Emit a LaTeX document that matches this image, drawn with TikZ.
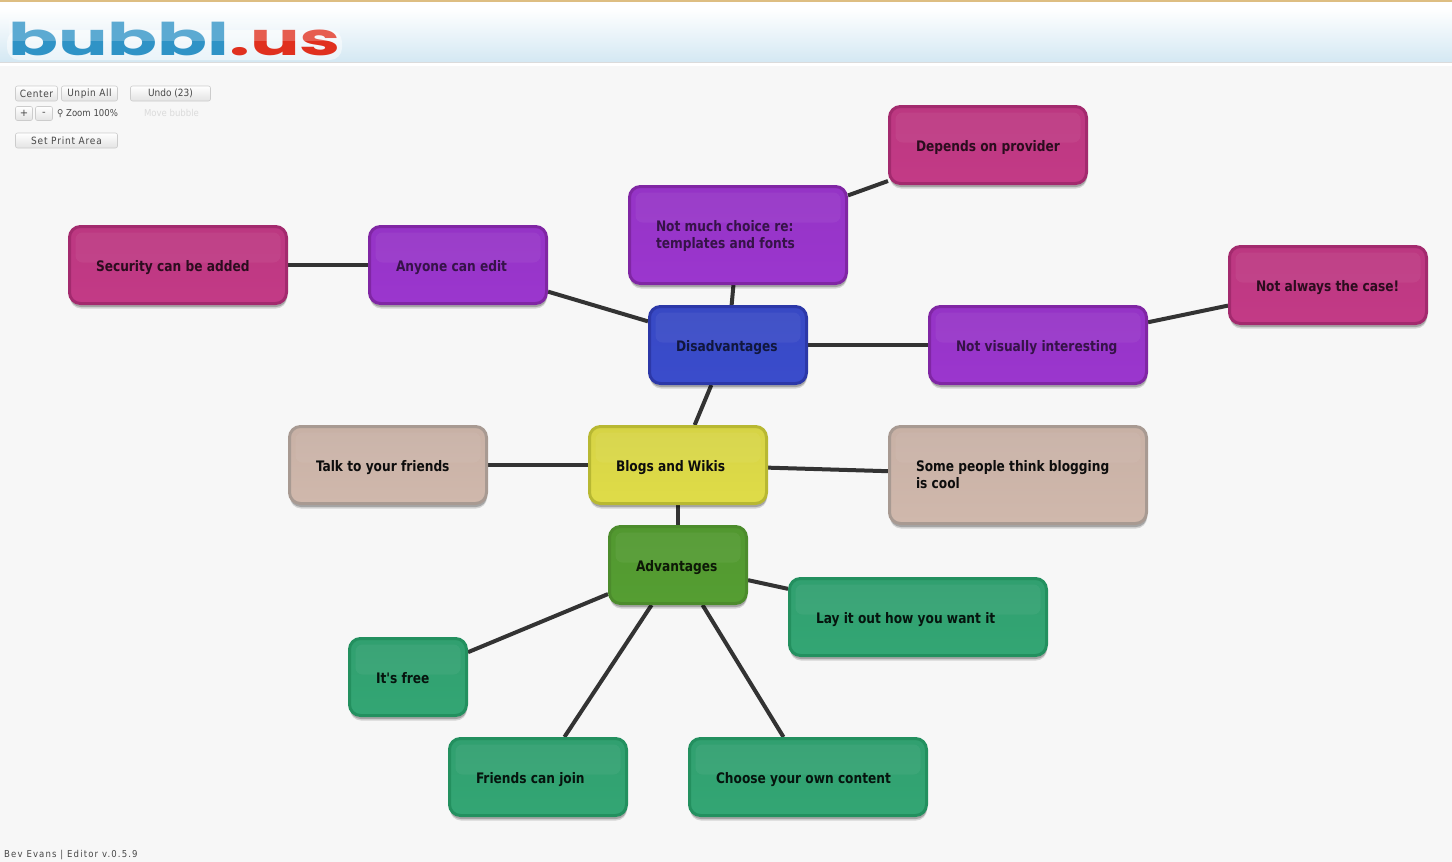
\documentclass[tikz,border=0pt]{standalone}
\usepackage{fontspec}
\setmainfont{DejaVu Sans}
\newfontfamily\bubfont{DejaVu Sans Condensed}[BoldFont={DejaVu Sans Condensed Bold},BoldFeatures={FakeStretch=0.935}]
\newfontfamily\uifont{DejaVu Sans Condensed}
\newfontfamily\logofont{Poppins}[BoldFont={Poppins Bold}]
\usetikzlibrary{shadows,calc}
\pgfdeclarelayer{under}
\pgfsetlayers{under,main}
\definecolor{paper}{HTML}{F7F7F7}
\definecolor{conn}{HTML}{333333}
\definecolor{bandblue}{HTML}{D4E8F3}
\definecolor{topline}{HTML}{DEBE82}
\tikzset{
  x=1pt,y=-1pt,
  bubble/.style n args={3}{
    rectangle, rounded corners=11pt, line width=3pt, inner sep=0pt, outer sep=1.5pt,
    draw=#1, top color=#2!96!black, bottom color=#2, text=#3,
    drop shadow={shadow xshift=0.5pt,shadow yshift=-5pt,opacity=.14,fill=black},
    drop shadow={shadow xshift=0.5pt,shadow yshift=-3.5pt,opacity=.22,fill=black},
    path picture={
      \fill[white,opacity=.05,rounded corners=7pt]
        ($(path picture bounding box.north west)+(6,6)$) rectangle
        ($(path picture bounding box.north east)+(-6,36)$);
    }
  },
  magentabub/.style={bubble={BM}{FM}{FM!22!black}},
  violetbub/.style={bubble={BV}{FV}{FV!35!black}},
  bluebub/.style={bubble={BB}{FB}{FB!30!black}},
  yellowbub/.style={bubble={BY}{FY}{black!95}},
  taupebub/.style={bubble={BT}{FT}{black!95}},
  greenbub/.style={bubble={BG}{FG}{FG!15!black}},
  tealbub/.style={bubble={BE}{FE}{FE!12!black}},
  link/.style={draw=conn,line width=4pt},
  uibtn/.style={rectangle,rounded corners=2pt,draw=black!20,line width=.6pt,top color=white,bottom color=black!11,
    inner sep=0pt,text=black!72,font=\fontsize{10}{11}\selectfont},
  uitext/.style={inner sep=0pt,text=black!72,font=\fontsize{9.5}{11}\selectfont},
  logotxt/.style={inner sep=0pt,anchor=base west,font=\logofont\bfseries\fontsize{46}{46}\selectfont}
}
\definecolor{BM}{HTML}{A32A6E}\definecolor{FM}{HTML}{C33A86}
\definecolor{BV}{HTML}{8026A4}\definecolor{FV}{HTML}{9B36CE}
\definecolor{BB}{HTML}{2C38A8}\definecolor{FB}{HTML}{3A4CCC}
\definecolor{BY}{HTML}{B8B832}\definecolor{FY}{HTML}{DFDC48}
\definecolor{BT}{HTML}{A89A92}\definecolor{FT}{HTML}{D0B8AC}
\definecolor{BG}{HTML}{4C8C2C}\definecolor{FG}{HTML}{559E32}
\definecolor{BE}{HTML}{23905F}\definecolor{FE}{HTML}{33A674}
\newcommand{\bub}[7]{%
  \pgfmathsetmacro{\cx}{(#2+#4)/2}\pgfmathsetmacro{\cy}{(#3+#5)/2}%
  \pgfmathsetmacro{\ww}{#4-#2-3}\pgfmathsetmacro{\hh}{#5-#3-3}%
  \node[#6,minimum width=\ww pt,minimum height=\hh pt] (#1) at (\cx,\cy)
    {\parbox[c][\hh pt][t]{\ww pt}{\raggedright\leftskip=26.5pt\bubfont\bfseries\fontsize{14.5}{17}\selectfont\vspace*{33pt}\strut #7\strut}};%
}
\begin{document}
\begin{tikzpicture}
\useasboundingbox (0,0) rectangle (1452,862);
\begin{pgfonlayer}{under}
  \fill[paper] (0,0) rectangle (1452,862);
  \fill[white] (0,0) rectangle (1452,66);
  \shade[top color=white,bottom color=bandblue] (0,8) rectangle (1452,62);
  \fill[black!14] (0,62) rectangle (1452,63);
  \fill[black!3] (0,66) rectangle (1452,68);
  \fill[topline] (0,0) rectangle (1452,1.5);
  \fill[white,opacity=.5,rounded corners=12pt] (7,30) rectangle (342,60);
\end{pgfonlayer}
% logo
\node[logotxt] (logo) at (8,55) {\scalebox{1.6}[.98]{\textcolor[HTML]{2F93C6}{bubbl}\textcolor[HTML]{E0301E}{.us}}};
\fill[white,opacity=.22] (9,20) rectangle (340,41);
% toolbar
\node[uibtn,minimum width=42pt,minimum height=15pt] (center) at (36.5,93.5) {\uifont\addfontfeatures{LetterSpace=6}Center};
\node[uibtn,minimum width=56pt,minimum height=15pt] (unpin) at (89.5,93.5) {\uifont\addfontfeatures{LetterSpace=6}Unpin All};
\node[uibtn,minimum width=80pt,minimum height=15pt] (undo) at (170.5,93.5) {\uifont Undo (23)};
\node[uibtn,minimum width=17pt,minimum height=14pt] (plus) at (24,113.5) {+};
\node[uibtn,minimum width=17pt,minimum height=14pt] (minus) at (44,113.5) {-};
\node[uitext,anchor=west] (zoom) at (57,114) {\uifont\fontsize{9.5}{11}\selectfont ⚲ Zoom 100\%};
\node[uitext,text=black!14] (move) at (171.5,112.5) {\uifont Move bubble};
\node[uibtn,minimum width=102pt,minimum height=15pt] (print) at (66.5,140.5) {\uifont\addfontfeatures{LetterSpace=8}Set Print Area};
\node[uitext,anchor=west] (footer) at (4,855) {\uifont\addfontfeatures{LetterSpace=12}Bev Evans | Editor v.0.5.9};
% bubbles
\bub{depends}{888}{105}{1088}{185}{magentabub}{Depends on provider}
\bub{choice}{628}{185}{848}{285}{violetbub}{Not much choice re:\\templates and fonts}
\bub{security}{68}{225}{288}{305}{magentabub}{Security can be added}
\bub{anyone}{368}{225}{548}{305}{violetbub}{Anyone can edit}
\bub{disadv}{648}{305}{808}{385}{bluebub}{Disadvantages}
\bub{visual}{928}{305}{1148}{385}{violetbub}{Not visually interesting}
\bub{notalways}{1228}{245}{1428}{325}{magentabub}{Not always the case!}
\bub{blogs}{588}{425}{768}{505}{yellowbub}{Blogs and Wikis}
\bub{talk}{288}{425}{488}{505}{taupebub}{Talk to your friends}
\bub{some}{888}{425}{1148}{525}{taupebub}{Some people think blogging\\is cool}
\bub{adv}{608}{525}{748}{605}{greenbub}{Advantages}
\bub{layout}{788}{577}{1048}{657}{tealbub}{Lay it out how you want it}
\bub{free}{348}{637}{468}{717}{tealbub}{It's free}
\bub{join}{448}{737}{628}{817}{tealbub}{Friends can join}
\bub{own}{688}{737}{928}{817}{tealbub}{Choose your own content}
\begin{pgfonlayer}{under}
  \draw[link] (depends) -- (choice);
  \draw[link] (choice) -- (disadv);
  \draw[link] (security) -- (anyone);
  \draw[link] (anyone) -- (disadv);
  \draw[link] (disadv) -- (visual);
  \draw[link] (visual) -- (notalways);
  \draw[link] (disadv) -- (blogs);
  \draw[link] (talk) -- (blogs);
  \draw[link] (blogs) -- (some);
  \draw[link] (blogs) -- (adv);
  \draw[link] (adv) -- (layout);
  \draw[link] (adv) -- (free);
  \draw[link] (adv) -- (join);
  \draw[link] (adv) -- (own);
\end{pgfonlayer}
\end{tikzpicture}
\end{document}
